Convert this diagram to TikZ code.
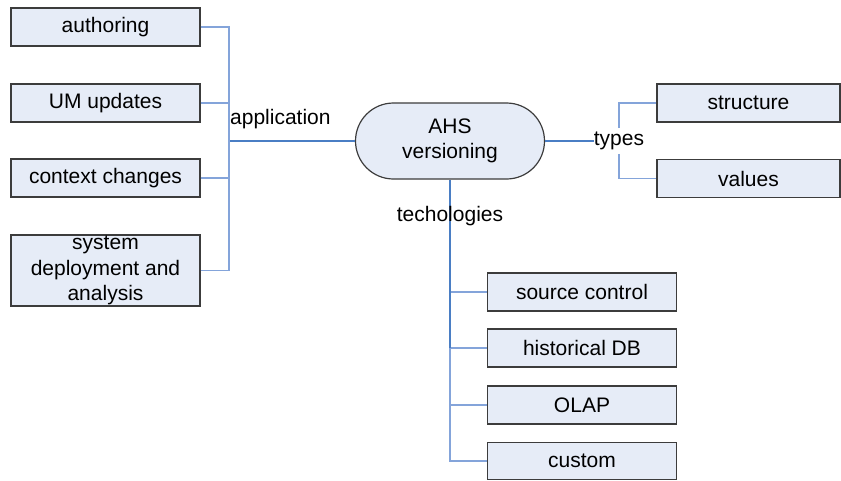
\documentclass[tikz,border=0pt]{standalone}
\usepackage{fontspec}
\setmainfont{Liberation Sans}
\definecolor{boxfill}{HTML}{E6ECF7}
\definecolor{boxline}{HTML}{3C3C3C}
\definecolor{trunkblue}{HTML}{4A7EC4}
\definecolor{branchblue}{HTML}{84A4DA}
\begin{document}
\begin{tikzpicture}[x=1pt, y=-1pt]
    \tikzset{
      box/.style={rectangle, draw=boxline, line width=1.2pt, fill=boxfill,
                  minimum width=189pt, minimum height=38pt, inner sep=0pt,
                  align=center, font=\fontsize{21}{25.5}\selectfont},
      hub/.style={box, rounded corners=38pt, minimum height=76pt},
      lbl/.style={inner sep=0pt, font=\fontsize{21}{25.5}\selectfont},
      trunk/.style={draw=trunkblue, line width=1.6pt},
      branch/.style={draw=branchblue, line width=1.3pt}
    }
    \useasboundingbox (0,0) rectangle (841,480);

    \node[hub] (hub) at (450, 141) {AHS\\versioning};

    \node[box] (auth) at (105.5, 27) {authoring};
    \node[box] (um) at (105.5, 103) {UM updates};
    \node[box] (ctx) at (105.5, 178) {context changes};
    \node[box, minimum height=71pt] (sys) at (105.5, 270.5)
      {system\\deployment and\\analysis};

    \node[box, minimum width=183pt] (struct) at (748.5, 103) {structure};
    \node[box, minimum width=183pt] (vals) at (748.5, 178.5) {values};

    \node[box] (src) at (582, 292) {source control};
    \node[box] (hist) at (582, 348) {historical DB};
    \node[box] (olap) at (582, 405) {OLAP};
    \node[box, minimum height=37pt] (cust) at (582, 461) {custom};

    % Ramas
    \coordinate (appjoint) at (229, 141);
    \draw[trunk] (hub.west) -- (appjoint);
    \foreach \n in {auth, um, ctx, sys}
      \draw[branch] (\n.east) -| (appjoint);
    \node[lbl, anchor=base west] (applbl) at (230, 124) {application};

    \node[lbl, inner ysep=3.6pt] (types) at (619, 141) {types};
    \draw[trunk] (hub.east) -- (types.west);
    \draw[branch] (types.north) |- (struct.west);
    \draw[branch] (types.south) |- (vals.west);

    \foreach \n in {src, hist, olap, cust}
      \draw[branch] (\n.west) -| (hub.south);
    \draw[trunk] (hub.south) -- (hub.south |- hist.west);
    \node[lbl] (tech) at (450, 216) {techologies};
  \end{tikzpicture}
\end{document}
